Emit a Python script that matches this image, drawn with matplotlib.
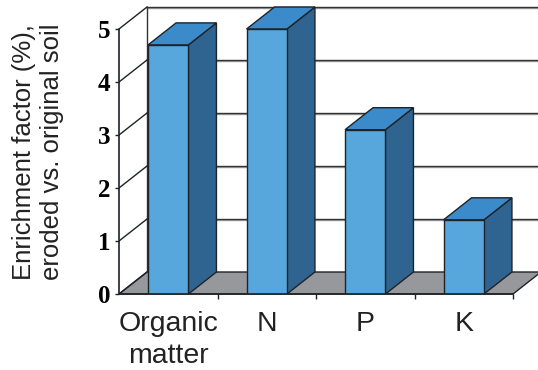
import matplotlib
matplotlib.use('Agg')
import matplotlib.pyplot as plt
from matplotlib.patches import Polygon

categories = ["Organic\nmatter", "N", "P", "K"]
values = [4.7, 5.0, 3.1, 1.4]
y_ticks = [0, 1, 2, 3, 4, 5]
y_label = "Enrichment factor (%),\neroded vs. original soil"

FRONT = '#57a6dc'
TOP = '#3b8bca'
SIDE = '#2f6490'
FLOOR = '#97989b'
EDGE = '#1e2328'
GRID = '#333333'

W, H = 538, 370
fig = plt.figure(figsize=(W / 100, H / 100), dpi=100)
fig.patch.set_facecolor('white')

# axes: x=0 sits on the front value axis, y=0 on the front floor edge
px_x0, px_y0 = 119, 294
px_per_cat, px_per_val = 98.5, 53.0
ax = fig.add_axes([px_x0 / W, (H - px_y0) / H, (W - px_x0) / W, px_y0 / H])
ax.set_xlim(0, (W - px_x0) / px_per_cat)
ax.set_ylim(0, px_y0 / px_per_val)
ax.set_facecolor('none')

# depth offset of the 3-D box, in data units
dx = 28 / px_per_cat
dy = 22 / px_per_val
n = len(categories)
top = y_ticks[-1]

# floor
ax.add_patch(Polygon([(0, 0), (n, 0), (n + dx, dy), (dx, dy)], closed=True,
                     facecolor=FLOOR, edgecolor=EDGE, lw=1.0, zorder=1, clip_on=False))

# back wall gridlines and the diagonals on the left wall
for t in y_ticks:
    if t > 0:
        ax.plot([dx, 10], [t + dy - 0.02, t + dy - 0.02], color='#a0a0a0', lw=1.0, zorder=0.5)
        ax.plot([dx, 10], [t + dy, t + dy], color=GRID, lw=1.0, zorder=0.6)
    ax.plot([0, dx], [t, t + dy], color=EDGE, lw=1.0, zorder=2)
ax.plot([dx, dx], [dy, top + dy], color=GRID, lw=1.0, zorder=0.6)

# bars
bw = 0.41
for i, v in enumerate(values):
    c = i + 0.5
    x0, x1 = c - bw / 2, c + bw / 2
    ax.add_patch(Polygon([(x1, 0), (x1 + dx, dy), (x1 + dx, v + dy), (x1, v)],
                         closed=True, facecolor=SIDE, edgecolor=EDGE, lw=1.0, zorder=3))
    ax.add_patch(Polygon([(x0, v), (x1, v), (x1 + dx, v + dy), (x0 + dx, v + dy)],
                         closed=True, facecolor=TOP, edgecolor=EDGE, lw=1.0, zorder=3))
    ax.add_patch(Polygon([(x0, 0), (x1, 0), (x1, v), (x0, v)],
                         closed=True, facecolor=FRONT, edgecolor=EDGE, lw=1.0, zorder=4))

# spines and ticks
for s in ['top', 'right']:
    ax.spines[s].set_visible(False)
ax.spines['left'].set_bounds(0, top)
ax.spines['bottom'].set_bounds(0, n)
for s in ['left', 'bottom']:
    ax.spines[s].set_color(EDGE)
    ax.spines[s].set_linewidth(1.2)
    ax.spines[s].set_zorder(5)

ax.set_yticks(y_ticks)
ax.set_yticklabels([str(t) for t in y_ticks], fontfamily='Liberation Serif',
                   fontweight='bold', fontsize=18)
ax.tick_params(axis='y', direction='out', length=3, width=1.0, color=EDGE, pad=3)

ax.set_xticks(range(1, n + 1))
ax.set_xticklabels([])
ax.tick_params(axis='x', which='major', direction='out', length=3.5, width=1.0, color=EDGE)
ax.set_xticks([i + 0.5 for i in range(n)], minor=True)
ax.set_xticklabels(categories, minor=True, fontfamily='Liberation Sans', fontsize=20.5,
                   linespacing=1.3, color='#222222')
ax.tick_params(axis='x', which='minor', length=0, pad=12)

fig.text(38 / W, 1 - 152 / H, y_label, rotation=90, ha='center', va='center',
         multialignment='center', fontfamily='Liberation Sans', fontsize=18.5,
         linespacing=1.25, color='#222222')

fig.savefig('out.png', dpi=100)
